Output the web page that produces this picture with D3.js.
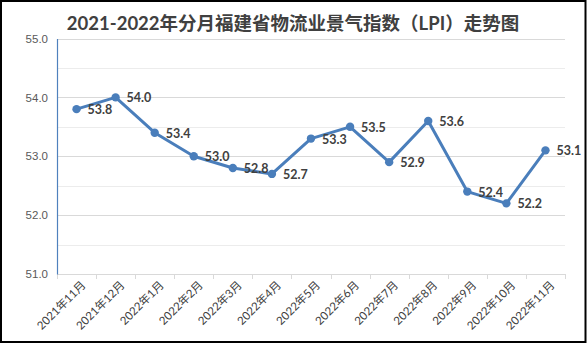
<!DOCTYPE html>
<html><head><meta charset="utf-8">
<script src="https://cdn.jsdelivr.net/npm/d3@7"></script>
<style>
html,body{margin:0;padding:0;background:#fff;}
svg{display:block;font-family:Lato,"Noto Sans CJK SC",sans-serif;}
</style></head>
<body><svg id="c" width="588" height="344"></svg>
<script>
const categories = ["2021年11月","2021年12月","2022年1月","2022年2月","2022年3月","2022年4月","2022年5月","2022年6月","2022年7月","2022年8月","2022年9月","2022年10月","2022年11月"];
const lpiValues = [53.8,54.0,53.4,53.0,52.8,52.7,53.3,53.5,52.9,53.6,52.4,52.2,53.1];
const yTicks = [51,52,53,54,55];
const yMinorTicks = [51.5,52.5,53.5,54.5];
const titleText = "2021-2022年分月福建省物流业景气指数（LPI）走势图";

(function(){
const svg = d3.select("#c");
const pL = 57, pR = 565, pT = 38.5, pB = 274;

svg.append("rect").attr("x",1).attr("y",1).attr("width",584.5).attr("height",341)
  .attr("fill","#fff").attr("stroke","#000").attr("stroke-width",2);

const x = d3.scaleBand().domain(categories).range([pL,pR]).padding(0);
const y = d3.scaleLinear().domain([51,55]).range([pB,pT]);

svg.append("g").selectAll("line").data(yMinorTicks).join("line")
  .attr("x1",pL).attr("x2",pR).attr("y1",d=>Math.round(y(d))+0.5).attr("y2",d=>Math.round(y(d))+0.5)
  .attr("stroke","#ececec").attr("stroke-width",1);
svg.append("g").selectAll("line").data(yTicks).join("line")
  .attr("x1",pL).attr("x2",pR).attr("y1",d=>Math.round(y(d))+0.5).attr("y2",d=>Math.round(y(d))+0.5)
  .attr("stroke","#d9d9d9").attr("stroke-width",1);

const yAxis = d3.axisLeft(y).tickValues(yTicks).tickFormat(d3.format(".1f")).tickSize(0).tickPadding(9);
const gy = svg.append("g").attr("transform",`translate(${pL},0)`).call(yAxis);
gy.select(".domain").attr("stroke","#4f81bd").attr("stroke-width",1.2);
gy.selectAll("text").attr("fill","#595959").attr("font-size","11.5px");

const bounds = categories.map(c=>x(c)).concat([pR]);
svg.append("line").attr("x1",pL).attr("x2",pR).attr("y1",Math.round(pB)+0.5).attr("y2",Math.round(pB)+0.5)
  .attr("stroke","#d9d9d9");
svg.append("g").selectAll("line").data(bounds).join("line")
  .attr("x1",d=>Math.round(d)+0.5).attr("x2",d=>Math.round(d)+0.5)
  .attr("y1",Math.round(pB)).attr("y2",Math.round(pB)+5)
  .attr("stroke","#d9d9d9");
gy.raise();

const cx = c => x(c)+x.bandwidth()/2;
svg.append("g").selectAll("text").data(categories).join("text")
  .attr("transform",c=>`translate(${cx(c)+7},${pB+9}) rotate(-45)`)
  .attr("text-anchor","end").attr("dy","0.35em")
  .attr("font-size","11.5px").attr("fill","#404040").text(c=>c);

const line = d3.line().x((d,i)=>cx(categories[i])).y(d=>y(d));
svg.append("path").datum(lpiValues).attr("d",line)
  .attr("fill","none").attr("stroke","#4a7ebb").attr("stroke-width",3).attr("stroke-linejoin","round");
svg.append("g").selectAll("circle").data(lpiValues).join("circle")
  .attr("cx",(d,i)=>cx(categories[i])).attr("cy",d=>y(d)).attr("r",4.2).attr("fill","#4a7ebb");

svg.append("g").selectAll("text").data(lpiValues).join("text")
  .attr("x",(d,i)=>cx(categories[i])+11).attr("y",d=>y(d)).attr("dy","0.4em")
  .attr("font-size","12.5px").attr("font-weight","bold").attr("fill","#404040").text(d=>d3.format(".1f")(d));

svg.append("text").attr("x",293).attr("y",30).attr("text-anchor","middle")
  .attr("font-size","18.5px").attr("font-weight","bold").attr("fill","#404040").text(titleText);
})();
</script></body></html>
